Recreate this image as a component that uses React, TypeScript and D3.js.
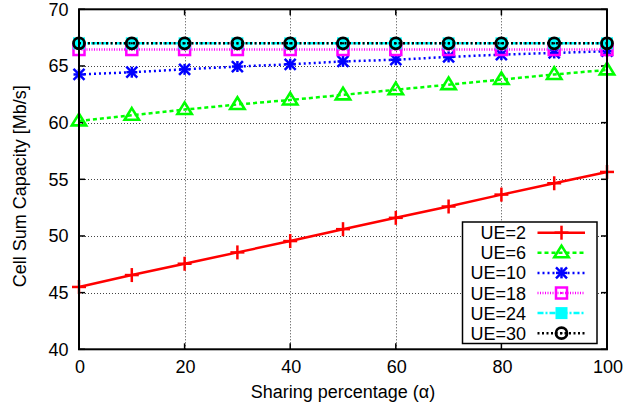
import React from "react";
import * as d3 from "d3";

const alphas = [0, 10, 20, 30, 40, 50, 60, 70, 80, 90, 100];
const ue2 = [45.5, 46.55, 47.55, 48.55, 49.55, 50.6, 51.6, 52.6, 53.65, 54.65, 55.65];
const ue6 = [60.15, 60.65, 61.15, 61.6, 62.0, 62.45, 62.9, 63.35, 63.8, 64.25, 64.65];
const ue10 = [64.25, 64.45, 64.7, 64.95, 65.15, 65.4, 65.55, 65.8, 66.0, 66.15, 66.3];
const ue18 = [66.45, 66.45, 66.45, 66.45, 66.45, 66.45, 66.45, 66.45, 66.45, 66.45, 66.45];
const ue24 = [67.0, 67.0, 67.0, 67.0, 67.0, 67.0, 67.0, 67.0, 67.0, 67.0, 67.0];
const ue30 = [67.0, 67.0, 67.0, 67.0, 67.0, 67.0, 67.0, 67.0, 67.0, 67.0, 67.0];
const seriesLabels = ["UE=2", "UE=6", "UE=10", "UE=18", "UE=24", "UE=30"];
const xTicks = [0, 20, 40, 60, 80, 100];
const yTicks = [40, 45, 50, 55, 60, 65, 70];

const FONT = "'Liberation Sans', Arial, Helvetica, sans-serif";
const FS = 18;

const styles = [
  { color: "#ff0000", dash: "", marker: "plus" },
  { color: "#00ff00", dash: "4,3", marker: "triangle" },
  { color: "#0000ff", dash: "2,3", marker: "star" },
  { color: "#ff00ff", dash: "1,1.5", marker: "squareDot" },
  { color: "#00ffff", dash: "6,2,2,2", marker: "squareFill" },
  { color: "#000000", dash: "2,2.5", marker: "circleDot" },
];

function Marker({ type, x, y, color }: { type: string; x: number; y: number; color: string }) {
  switch (type) {
    case "plus":
      return (
        <g stroke={color} strokeWidth={2.5}>
          <line x1={x - 7} y1={y} x2={x + 7} y2={y} />
          <line x1={x} y1={y - 7} x2={x} y2={y + 7} />
        </g>
      );
    case "triangle": {
      const s = 7.2;
      const pts = `${x},${y - s} ${x + s},${y + s * 0.62} ${x - s},${y + s * 0.62}`;
      return <polygon points={pts} fill="none" stroke={color} strokeWidth={2.6} />;
    }
    case "star": {
      const s = 5.5;
      return (
        <g stroke={color} strokeWidth={2.5}>
          <line x1={x - s} y1={y} x2={x + s} y2={y} />
          <line x1={x} y1={y - s} x2={x} y2={y + s} />
          <line x1={x - s} y1={y - s} x2={x + s} y2={y + s} />
          <line x1={x - s} y1={y + s} x2={x + s} y2={y - s} />
        </g>
      );
    }
    case "squareDot":
      return (
        <g>
          <rect x={x - 5.5} y={y - 5.5} width={11} height={11} fill="none" stroke={color} strokeWidth={2.5} />
          <rect x={x - 1} y={y - 1} width={2} height={2} fill={color} />
        </g>
      );
    case "squareFill":
      return <rect x={x - 6} y={y - 6} width={12} height={12} fill={color} />;
    case "circleDot":
      return (
        <g>
          <circle cx={x} cy={y} r={5.5} fill="none" stroke={color} strokeWidth={2.8} />
          <rect x={x - 1} y={y - 1} width={2} height={2} fill={color} />
        </g>
      );
  }
  return null;
}

export default function App() {
  const W = 641;
  const H = 407;
  const left = 79;
  const right = 607;
  const top = 9.3;
  const bottom = 349.3;
  const x = d3.scaleLinear().domain([0, 100]).range([left, right]);
  const y = d3.scaleLinear().domain([40, 70]).range([bottom, top]);
  const allSeries = [ue2, ue6, ue10, ue18, ue24, ue30];
  const line = d3
    .line<number>()
    .x((_, i) => x(alphas[i]))
    .y((d) => y(d));

  const lgLeft = 462.5;
  const lgTop = 222;
  const lgRight = 597;
  const lgBottom = 343.5;
  const lgRow0 = 232.7;
  const lgStep = 20.1;

  return (
    <svg
      width={W}
      height={H}
      style={{ position: "absolute", left: 0, top: 0, background: "#fff" }}
      fontFamily={FONT}
      fontSize={FS}
    >
      <rect x={0} y={0} width={W} height={H} fill="#fff" />
      {/* grid */}
      <g stroke="#444" strokeWidth={1} strokeDasharray="1,2">
        {yTicks
          .filter((t) => t > 40 && t < 70)
          .map((t) => (
            <line key={"gy" + t} x1={left} x2={right} y1={Math.round(y(t)) + 0.5} y2={Math.round(y(t)) + 0.5} />
          ))}
        {xTicks
          .filter((t) => t > 0 && t < 100)
          .map((t) => (
            <line key={"gx" + t} x1={Math.round(x(t)) + 0.5} x2={Math.round(x(t)) + 0.5} y1={top} y2={bottom} />
          ))}
      </g>
      {/* ticks */}
      <g stroke="#000" strokeWidth={1.5}>
        {yTicks.map((t) => (
          <g key={"ty" + t}>
            <line x1={left} x2={left + 6} y1={y(t)} y2={y(t)} />
            <line x1={right - 6} x2={right} y1={y(t)} y2={y(t)} />
          </g>
        ))}
        {xTicks.map((t) => (
          <g key={"tx" + t}>
            <line x1={x(t)} x2={x(t)} y1={bottom} y2={bottom - 6} />
            <line x1={x(t)} x2={x(t)} y1={top} y2={top + 6} />
          </g>
        ))}
      </g>
      {/* series */}
      {allSeries.map((s, si) => (
        <g key={"s" + si}>
          <path
            d={line(s) || ""}
            fill="none"
            stroke={styles[si].color}
            strokeWidth={2.5}
            strokeDasharray={styles[si].dash || undefined}
          />
          {s.map((v, i) => (
            <Marker key={i} type={styles[si].marker} x={x(alphas[i])} y={y(v)} color={styles[si].color} />
          ))}
        </g>
      ))}
      {/* legend */}
      <rect x={lgLeft} y={lgTop} width={lgRight - lgLeft} height={lgBottom - lgTop} fill="#fff" stroke="#000" strokeWidth={1.5} />
      {seriesLabels.map((lab, i) => {
        const cy = lgRow0 + i * lgStep;
        return (
          <g key={"lg" + i}>
            <text x={526} y={cy + 6.5} textAnchor="end" fill="#000">
              {lab}
            </text>
            <line
              x1={537.5}
              x2={585}
              y1={cy}
              y2={cy}
              stroke={styles[i].color}
              strokeWidth={2.5}
              strokeDasharray={styles[i].dash || undefined}
            />
            <Marker type={styles[i].marker} x={561.5} y={cy} color={styles[i].color} />
          </g>
        );
      })}
      {/* border */}
      <rect x={left} y={top} width={right - left} height={bottom - top} fill="none" stroke="#000" strokeWidth={2} />
      {/* tick labels */}
      {yTicks.map((t) => (
        <text key={"ly" + t} x={68.5} y={y(t) + 6.5} textAnchor="end" fill="#000">
          {t}
        </text>
      ))}
      {xTicks.map((t) => (
        <text key={"lx" + t} x={x(t) + 1} y={373} textAnchor="middle" fill="#000">
          {t}
        </text>
      ))}
      <text x={(left + right) / 2} y={398} textAnchor="middle" fill="#000">
        Sharing percentage (α)
      </text>
      <text
        transform={`translate(26,${(top + bottom) / 2 + 7}) rotate(-90)`}
        textAnchor="middle"
        fill="#000"
      >
        Cell Sum Capacity [Mb/s]
      </text>
    </svg>
  );
}
